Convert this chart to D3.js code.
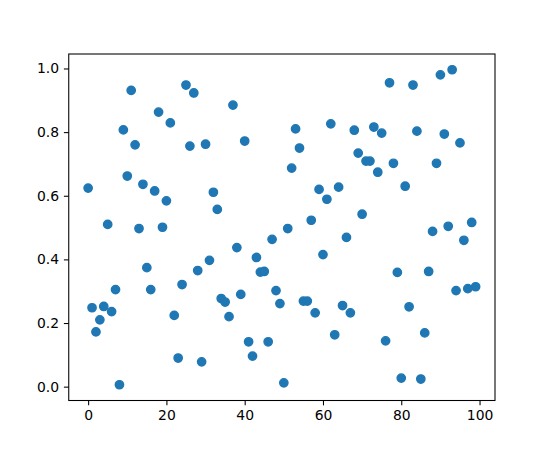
<!DOCTYPE html>
<html lang="en">
<head>
    <meta charset="UTF-8">
    <title>scatter</title>
    <script src="https://cdn.jsdelivr.net/npm/d3@7"></script>
    <style>
        body, html {
            margin: 0;
            padding: 0;
            background: #fff;
            overflow: hidden;
        }
        svg {
            display: block;
        }
    </style>
</head>
<body>
    <svg id="mainsvg"></svg>
    <script>
        // x 就是 0..99 的序号
        const xs = d3.range(100);
        const ys = [
            0.624, 0.248, 0.172, 0.210, 0.252, 0.510, 0.236, 0.305, 0.006, 0.807,
            0.662, 0.931, 0.760, 0.497, 0.636, 0.374, 0.305, 0.615, 0.863, 0.501,
            0.584, 0.829, 0.224, 0.090, 0.321, 0.948, 0.756, 0.923, 0.365, 0.078,
            0.762, 0.397, 0.611, 0.557, 0.277, 0.266, 0.220, 0.885, 0.437, 0.290,
            0.772, 0.141, 0.096, 0.406, 0.360, 0.362, 0.141, 0.463, 0.302, 0.261,
            0.012, 0.497, 0.687, 0.810, 0.750, 0.269, 0.269, 0.523, 0.232, 0.620,
            0.415, 0.589, 0.826, 0.163, 0.627, 0.255, 0.469, 0.232, 0.806, 0.734,
            0.542, 0.709, 0.709, 0.816, 0.674, 0.797, 0.144, 0.955, 0.702, 0.359,
            0.027, 0.630, 0.251, 0.948, 0.803, 0.024, 0.169, 0.362, 0.488, 0.702,
            0.980, 0.794, 0.504, 0.996, 0.302, 0.766, 0.460, 0.308, 0.516, 0.314
        ];
        const xTicks = [0, 20, 40, 60, 80, 100];
        const yTicks = [0.0, 0.2, 0.4, 0.6, 0.8, 1.0];

        const data = xs.map((x, i) => ({ x: x, y: ys[i] }));

        const width = 550, height = 450;
        const svg = d3.select('svg').attr('width', width).attr('height', height);

        // matplotlib 默认的子图位置
        const margin = { top: 54, right: 55, bottom: 49.5, left: 68.75 };
        const innerWidth = width - margin.left - margin.right;
        const innerHeight = height - margin.top - margin.bottom;

        const g = svg.append('g')
            .attr('transform', `translate(${margin.left}, ${margin.top})`);

        // 两边各留 5% 的空白
        const pad = ([a, b]) => [a - (b - a) * 0.05, b + (b - a) * 0.05];
        const xScale = d3.scaleLinear().domain(pad(d3.extent(xs))).range([0, innerWidth]);
        const yScale = d3.scaleLinear().domain(pad(d3.extent(ys))).range([innerHeight, 0]);

        const tickLen = 4.86;
        const xAxis = d3.axisBottom(xScale).tickValues(xTicks).tickSize(tickLen).tickPadding(4.86)
            .tickFormat(d3.format('d'));
        const yAxis = d3.axisLeft(yScale).tickValues(yTicks).tickSize(tickLen).tickPadding(4.86)
            .tickFormat(d3.format('.1f'));

        const xAxisGroup = g.append('g').attr('transform', `translate(0, ${innerHeight})`).call(xAxis);
        const yAxisGroup = g.append('g').call(yAxis);
        [xAxisGroup, yAxisGroup].forEach(a => {
            a.attr('font-family', 'DejaVu Sans, sans-serif').attr('font-size', 13.9);
            a.select('.domain').remove();
            a.selectAll('.tick line').attr('stroke', '#000').attr('stroke-width', 1.07);
            a.selectAll('.tick text').attr('fill', '#000');
        });

        g.selectAll('circle').data(data).enter().append('circle')
            .attr('cx', d => xScale(d.x))
            .attr('cy', d => yScale(d.y))
            .attr('r', 4.17)
            .attr('fill', '#1f77b4')
            .attr('stroke', '#1f77b4')
            .attr('stroke-width', 1.39);

        // 四周边框
        g.append('rect')
            .attr('width', innerWidth)
            .attr('height', innerHeight)
            .attr('fill', 'none')
            .attr('stroke', '#000')
            .attr('stroke-width', 1.07);
    </script>
</body>
</html>
